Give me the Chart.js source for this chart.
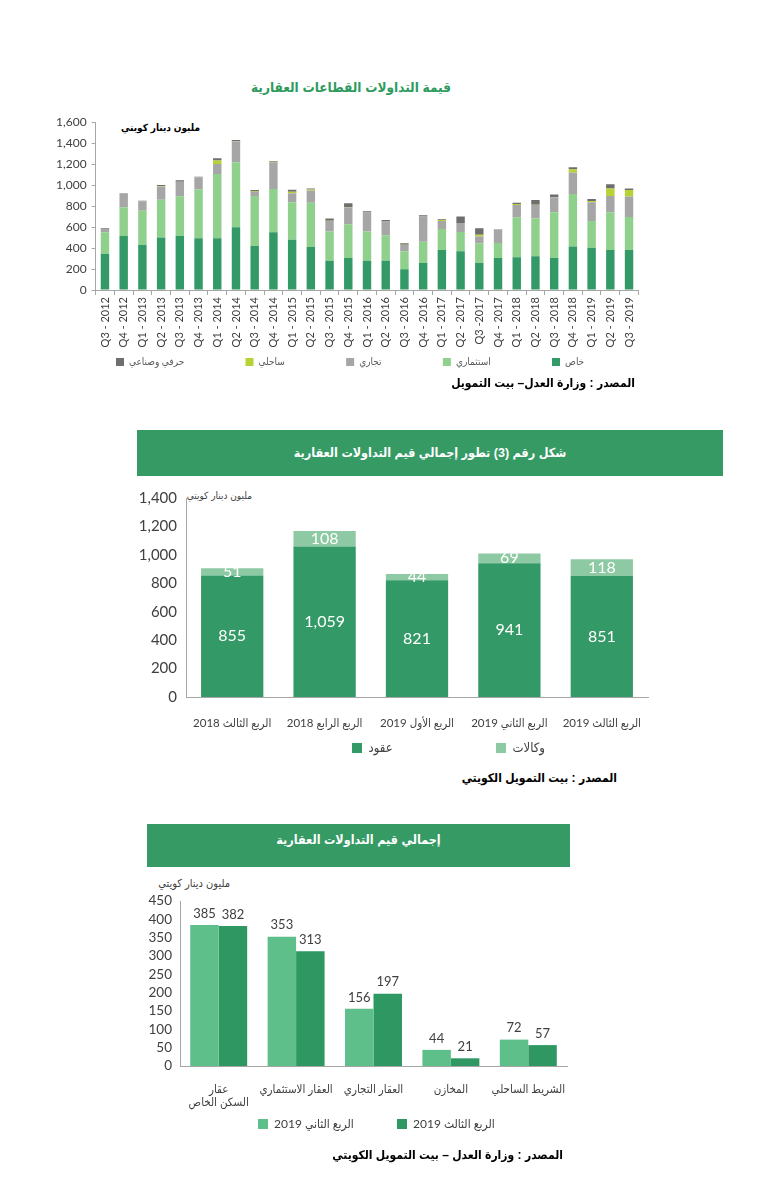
<!DOCTYPE html>
<html lang="ar">
<head>
<meta charset="utf-8">
<title>التداولات العقارية</title>
<script src="https://cdn.jsdelivr.net/npm/chart.js@4.4.1/dist/chart.umd.min.js"></script>
<style>
body { margin: 0; background: #fff; }
#page { position: relative; width: 770px; height: 1194px; overflow: hidden; font-family: Arial, "Liberation Sans", "DejaVu Sans Condensed", "DejaVu Sans", sans-serif; font-stretch: condensed; }
canvas { position: absolute; }
.txt { position: absolute; white-space: nowrap; direction: rtl; color: #000; }
.band { position: absolute; background: #359a63; color: #fff; font-weight: bold; font-size: 12.5px; text-align: center; direction: rtl; }
</style>
</head>
<body>
<div id="page">

  <!-- chart 1 -->
  <div class="txt" style="left:231px;width:240px;text-align:center;top:80px;font-size:13.5px;line-height:16px;font-weight:bold;color:#2e9b5e;">قيمة التداولات القطاعات العقارية</div>
  <div class="txt" style="right:570px;top:122px;font-size:10px;line-height:12px;font-weight:bold;">مليون دينار كويتي</div>
  <canvas id="c1" width="640" height="270" style="left:40px;top:110px;"></canvas>
  <div class="txt" style="right:135px;top:376px;font-size:12px;line-height:14px;font-weight:bold;">المصدر : وزارة العدل– بيت التمويل</div>

  <!-- chart 2 -->
  <div class="band" style="left:137px;top:430px;width:586px;height:46px;line-height:46px;">شكل رقم (3) تطور إجمالي قيم التداولات العقارية</div>
  <div class="txt" style="right:518px;top:490px;font-size:10px;line-height:12px;color:#404040;">مليون دينار كويتي</div>
  <canvas id="c2" dir="rtl" width="545" height="290" style="left:120px;top:480px;"></canvas>
  <div class="txt" style="right:153px;top:771px;font-size:12px;line-height:14px;font-weight:bold;">المصدر : بيت التمويل الكويتي</div>

  <!-- chart 3 -->
  <div class="band" style="left:147px;top:824px;width:423px;height:43px;line-height:32px;">إجمالي قيم التداولات العقارية</div>
  <div class="txt" style="right:540px;top:877px;font-size:11px;line-height:13px;color:#404040;">مليون دينار كويتي</div>
  <canvas id="c3" dir="rtl" width="450" height="270" style="left:130px;top:885px;"></canvas>
  <div class="txt" style="right:207px;top:1148px;font-size:12px;line-height:14px;font-weight:bold;">المصدر : وزارة العدل – بيت التمويل الكويتي</div>
</div>

<script>
// ---- data: chart 1 (by sector, million KWD)
const quarters = ['Q3 - 2012','Q4 - 2012','Q1 - 2013','Q2 - 2013','Q3 - 2013','Q4 - 2013','Q1 - 2014','Q2 - 2014','Q3 - 2014','Q4 - 2014',
  'Q1 - 2015','Q2 - 2015','Q3 - 2015','Q4 - 2015','Q1 - 2016','Q2 - 2016','Q3 - 2016','Q4 - 2016','Q1 - 2017','Q2 - 2017',
  'Q3 -2017','Q4 - 2017','Q1 - 2018','Q2 - 2018','Q3 - 2018','Q4 - 2018','Q1 - 2019','Q2 - 2019','Q3 - 2019'];
const khass  = [345,515,430,500,515,493,493,598,420,550,480,410,280,305,280,280,197,258,382,369,258,305,312,321,305,414,404,382,382];
const invest = [205,275,325,360,380,468,614,620,477,414,357,423,277,322,277,239,172,203,200,184,187,144,381,363,436,502,254,359,315];
const comm   = [35,125,92,125,137,115,95,198,38,254,85,115,101,159,181,133,60,239,76,86,64,130,118,127,143,204,179,156,194];
const sahli  = [0,0,0,5,0,0,32,3,5,5,16,10,3,3,0,0,3,0,10,0,19,0,10,3,3,32,12,70,63];
const craft  = [5,5,5,12,15,4,22,12,14,8,19,10,20,38,13,16,13,13,6,61,60,0,12,45,23,19,19,41,13];
const ticks1 = [0, 1600, 200];

// ---- data: chart 2 (contracts / agencies)
const quarters2 = ['الربع الثالث 2018','الربع الرابع 2018','الربع الأول 2019','الربع الثاني 2019','الربع الثالث 2019'];
const contracts = [855,1059,821,941,851];
const agencies  = [51,108,44,69,118];
const ticks2 = [0, 1400, 200];

// ---- data: chart 3 (by sector, Q2 vs Q3 2019)
const sectors = [['عقار','السكن الخاص'],'العقار الاستثماري','العقار التجاري','المخازن','الشريط الساحلي'];
const q2_2019 = [385,353,156,44,72];
const q3_2019 = [382,313,197,21,57];
const ticks3 = [0, 450, 50];

const FONT = 'Lato, "DejaVu Sans Condensed", "DejaVu Sans", sans-serif';
Chart.defaults.font.family = FONT;
Chart.defaults.color = '#404040';

// numbers written on / above the bars
const barLabels = {
  id: 'barLabels',
  afterDatasetsDraw(chart, args, o) {
    if (!o.mode) return;
    const ctx = chart.ctx;
    ctx.save();
    ctx.font = o.size + 'px ' + FONT;
    ctx.fillStyle = o.color;
    ctx.textAlign = 'center';
    chart.data.datasets.forEach((ds, di) => {
      chart.getDatasetMeta(di).data.forEach((bar, i) => {
        const t = ds.data[i].toLocaleString('en-US');
        if (o.mode === 'center') {
          ctx.textBaseline = 'middle';
          ctx.fillText(t, bar.x, (bar.y + bar.base) / 2);
        } else {
          ctx.textBaseline = 'bottom';
          ctx.fillText(t, bar.x, bar.y - o.offset);
        }
      });
    });
    ctx.restore();
  }
};

// put the legend row where the original has it
const legendPos = {
  id: 'legendPos',
  afterLayout(chart, args, o) {
    const lg = chart.legend;
    if (!lg || o.x === undefined) return;
    const pad = lg.options.labels.padding;
    const w = lg.right - lg.left;
    lg.left = o.x - pad;
    lg.right = lg.left + w;
    lg.top = o.y - pad;
    lg.bottom = o.y + 30;
    lg.width = w;
    lg.height = lg.bottom - lg.top;
  }
};

// spacing between legend items so first and last boxes land where wanted
function legendPad(texts, size, box, span) {
  const ctx = document.createElement('canvas').getContext('2d');
  ctx.font = size + 'px ' + FONT;
  let used = 0;
  for (let i = 0; i < texts.length - 1; i++) used += box + size / 2 + ctx.measureText(texts[i]).width;
  return (span - used) / (texts.length - 1);
}

function yAxis(t, width, size, pad, tickMarks) {
  return {
    stacked: true, min: t[0], max: t[1],
    afterFit: s => { s.width = width; },
    ticks: { stepSize: t[2], autoSkip: false, font: { size: size }, padding: pad, color: '#404040' },
    grid: { display: tickMarks, drawOnChartArea: false, drawTicks: tickMarks, tickLength: 4, color: '#a6a6a6' },
    border: { display: true, color: '#a6a6a6' }
  };
}

// ---------- chart 1
const leg1 = ['حرفي وصناعي','ساحلي','تجاري','استثماري','خاص'];
new Chart(document.getElementById('c1'), {
  type: 'bar',
  data: {
    labels: quarters,
    datasets: [
      { label: 'خاص', data: khass, backgroundColor: '#339966' },
      { label: 'استثماري', data: invest, backgroundColor: '#8fd08c' },
      { label: 'تجاري', data: comm, backgroundColor: '#a6a6a6' },
      { label: 'ساحلي', data: sahli, backgroundColor: '#b5d334' },
      { label: 'حرفي وصناعي', data: craft, backgroundColor: '#6e6e6e' }
    ]
  },
  plugins: [legendPos],
  options: {
    responsive: false, animation: false, locale: 'en-US',
    layout: { padding: { top: 12, right: 41.6, bottom: 29, left: 0 } },
    datasets: { bar: { categoryPercentage: 1, barPercentage: 0.45, borderWidth: 0 } },
    scales: {
      x: {
        stacked: true,
        afterFit: s => { s.height = 60; },
        ticks: { minRotation: 90, maxRotation: 90, autoSkip: false, font: { size: 11 }, padding: 2, color: '#404040' },
        grid: { drawOnChartArea: false, tickLength: 5, color: '#a6a6a6' },
        border: { color: '#a6a6a6' }
      },
      y: yAxis(ticks1, 55.6, 12, 5, true)
    },
    plugins: {
      tooltip: { enabled: false },
      legend: {
        position: 'bottom', align: 'start', reverse: true, maxHeight: 1,
        labels: { boxWidth: 8, boxHeight: 8, font: { size: 10 }, color: '#595959', padding: legendPad(leg1, 10, 8, 436) }
      },
      legendPos: { x: 76, y: 247 }
    }
  }
});

// ---------- chart 2
const leg2 = ['عقود','وكالات'];
new Chart(document.getElementById('c2'), {
  type: 'bar',
  data: {
    labels: quarters2,
    datasets: [
      { label: 'عقود', data: contracts, backgroundColor: '#339966' },
      { label: 'وكالات', data: agencies, backgroundColor: '#8dcaa3' }
    ]
  },
  plugins: [barLabels, legendPos],
  options: {
    responsive: false, animation: false, locale: 'en-US',
    layout: { padding: { top: 13, right: 17, bottom: 32, left: 0 } },
    datasets: { bar: { categoryPercentage: 1, barPercentage: 0.674, borderWidth: 0 } },
    scales: {
      x: {
        stacked: true,
        afterFit: s => { s.height = 40; },
        ticks: { font: { size: 11.5 }, padding: 11, color: '#404040', maxRotation: 0, autoSkip: false },
        grid: { display: false },
        border: { color: '#a6a6a6' }
      },
      y: yAxis(ticks2, 66, 15, 9, false)
    },
    plugins: {
      tooltip: { enabled: false },
      legend: {
        position: 'bottom', align: 'start', maxHeight: 1,
        labels: { boxWidth: 10, boxHeight: 10, font: { size: 13 }, color: '#404040', padding: legendPad(leg2, 13, 10, 144) }
      },
      legendPos: { x: 232, y: 261.5 },
      barLabels: { mode: 'center', size: 16, color: '#ffffff' }
    }
  }
});

// ---------- chart 3
const leg3 = ['الربع الثاني 2019','الربع الثالث 2019'];
new Chart(document.getElementById('c3'), {
  type: 'bar',
  data: {
    labels: sectors,
    datasets: [
      { label: 'الربع الثاني 2019', data: q2_2019, backgroundColor: '#5ebf8b' },
      { label: 'الربع الثالث 2019', data: q3_2019, backgroundColor: '#2f9762' }
    ]
  },
  plugins: [barLabels, legendPos],
  options: {
    responsive: false, animation: false, locale: 'en-US',
    layout: { padding: { top: 13, right: 13, bottom: 43, left: 0 } },
    datasets: { bar: { categoryPercentage: 0.736, barPercentage: 1, borderWidth: 0 } },
    scales: {
      x: {
        afterFit: s => { s.height = 45; },
        ticks: { font: { size: 11.5 }, padding: 8, color: '#404040', maxRotation: 0, autoSkip: false },
        grid: { display: false },
        border: { color: '#a6a6a6' }
      },
      y: Object.assign(yAxis(ticks3, 50, 13.5, 8, false), { stacked: false })
    },
    plugins: {
      tooltip: { enabled: false },
      legend: {
        position: 'bottom', align: 'start', maxHeight: 1,
        labels: { boxWidth: 10, boxHeight: 10, font: { size: 12 }, color: '#404040', padding: legendPad(leg3, 12, 10, 139) }
      },
      legendPos: { x: 128, y: 233 },
      barLabels: { mode: 'top', size: 13, color: '#404040', offset: 5 }
    }
  }
});
</script>
</body>
</html>
